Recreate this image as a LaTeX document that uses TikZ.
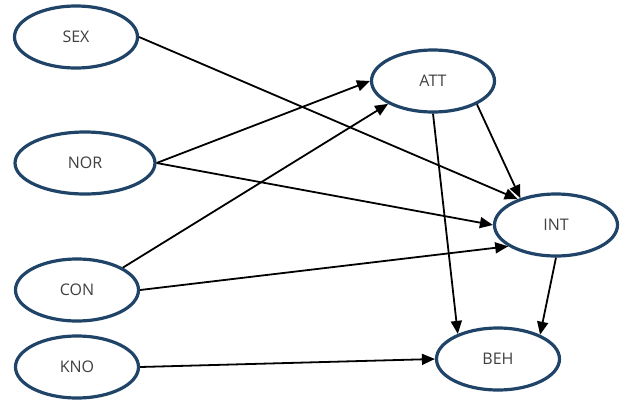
\documentclass[tikz,border=0pt]{standalone}
\usepackage{fontspec}
\setmainfont{Open Sans}
\usetikzlibrary{arrows.meta,shapes.geometric}
\definecolor{ellblue}{HTML}{1F4468}
\definecolor{txtgray}{HTML}{404040}
\tikzset{
  var/.style={ellipse,draw=ellblue,line width=3.2pt,fill=white,minimum width=123pt,minimum height=62pt,inner sep=0pt,
    text=txtgray,font=\fontsize{16}{19}\selectfont},
  link/.style={line width=1.8pt,-{Triangle[length=13pt,width=11pt]}}
}
\begin{document}
\begin{tikzpicture}[x=1pt,y=-1pt]
\useasboundingbox (0,0) rectangle (626,402);
\node[var] (sex) at (76,37) {SEX};
\node[var,minimum width=140pt] (nor) at (85,163) {NOR};
\node[var] (con) at (77,290) {CON};
\node[var] (kno) at (77,367) {KNO};
\node[var] (att) at (433,81) {ATT};
\node[var] (int) at (556,225) {INT};
\node[var] (beh) at (498,359) {BEH};
\draw[link] (sex.east) -- (int.146);
\draw[link] (nor.east) -- (att.west);
\draw[link] (nor.east) -- (int.west);
\draw[link] (con.26) -- (att.207);
\draw[link] (con.east) -- (int.204);
\draw[link] (kno.east) -- (beh.west);
\draw[link] (att.-28) -- (int.143);
\draw[link] (att.south) -- (beh.148);
\draw[link] (int.south) -- (beh.30);
\end{tikzpicture}
\end{document}
